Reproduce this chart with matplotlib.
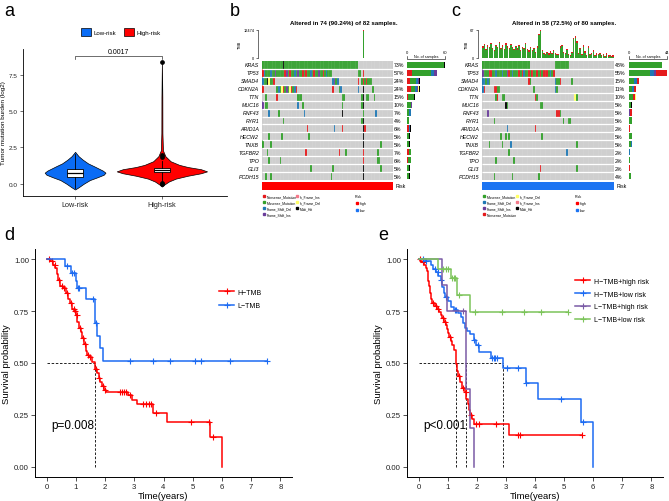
import numpy as np
import matplotlib
matplotlib.use("Agg")
import matplotlib.pyplot as plt
from matplotlib.patches import Patch
from matplotlib.lines import Line2D

plt.rcParams['font.family'] = ['Liberation Sans', 'DejaVu Sans']

W, H = 669, 502

# ---------------- panel a: TMB violin ----------------
groups = ["Low-risk", "High-risk"]
group_colors = ["#0A6CF5", "#FF0000"]
low_vio_y = [-0.4, -0.25, 0.0, 0.25, 0.45, 0.62, 0.76, 0.9, 1.05, 1.2, 1.4, 1.65, 1.9, 2.2]
low_vio_w = [0.0, 0.04, 0.1, 0.17, 0.26, 0.33, 0.35, 0.32, 0.27, 0.22, 0.15, 0.09, 0.04, 0.0]
high_vio_y = [-0.2, -0.05, 0.15, 0.35, 0.55, 0.72, 0.85, 1.0, 1.15, 1.3, 1.55, 1.9, 2.3, 3.5, 6.0, 8.45]
high_vio_w = [0.0, 0.03, 0.08, 0.16, 0.3, 0.45, 0.52, 0.45, 0.3, 0.2, 0.1, 0.04, 0.012, 0.006, 0.005, 0.0]
box_low = dict(med=0.75, q1=0.45, q3=1.02, whislo=-0.3, whishi=2.05, fliers=[])
box_high = dict(med=0.92, q1=0.78, q3=1.1, whislo=0.15, whishi=1.6, fliers=[8.4, 1.95, 1.82, 0.08, 0.0])
p_value_a = "0.0017"

# ---------------- panels b / c: oncoplots ----------------
genes = ["KRAS", "TP53", "SMAD4", "CDKN2A", "TTN", "MUC16", "RNF43", "RYR1",
         "ARID1A", "HECW2", "TNXB", "TGFBR2", "TPO", "GLI3", "PCDH15"]
# codes: M missense, N nonsense, D frame-shift del, I frame-shift ins,
#        i in-frame ins, d in-frame del, H multi-hit
muts_b = [
    "0-59M 13H",
    "0-43M 0N 1D 5D 8I 14N 15I 17N 20D 22I 25N 27N 30D 32N 35I 38N 40D 60-61M 63N",
    "0D 1M 2M 3H 4d 5M 6M 7N 44D 45I 46M 47D 60N 62M 63N 64M 65N 66M 67M 68M",
    "0N 9M 10D 11M 12d 13N 14M 15I 16M 17d 18N 19M 20D 21N 44N 48M 49D 60D 63H 69M",
    "2M 9N 22M 23M 24M 50M 51M 62M 63H 65M 66M 70M",
    "0I 2M 3M 22D 25M 50M 62M 63H",
    "4D 10M 26D 50H 63M 71D",
    "13M 62M 63H",
    "28N 45D 50N 63H 64N",
    "4M 12M 29M 63H",
    "0M 5M 63H 74M",
    "3M 27N 48N 52M 63N 72M",
    "4M 11M 63N 72M 73M",
    "30M 44M 63H 74M",
    "2M 5M 43M 63H",
]
muts_c = [
    "0-28M 44-52M",
    "0-43M 0I 4N 5N 8D 12D 15I 16N 18D 22N 24N 25D 28N 30N 33N 35N 37N 38N 39N 41D 43N",
    "0D 1D 2M 3D 4M 28N 29M 44D 45M 46M 47N 54M",
    "0D 1N 7N 8N 9M 10M 31M 44D 45M",
    "8M 9N 12M 13M 32N 33M 56d 57M",
    "14H 15M 35M 36M",
    "3I 45N 46N 47M",
    "7M 49M 52M 53M",
    "15D 32N",
    "11M 14M 16M 36M",
    "4M 12M 17D 57M",
    "16M 51D",
    "8M 19M",
    "35N 57M",
    "7M 18M 34M",
]
pct_b = ["73%", "57%", "24%", "24%", "15%", "10%", "7%", "4%", "6%", "5%", "5%", "7%", "6%", "5%", "5%"]
pct_c = ["48%", "55%", "15%", "11%", "10%", "5%", "5%", "5%", "2%", "5%", "5%", "2%", "2%", "2%", "4%"]
tmb_b = [18, 25, 30, 22, 41, 19, 27, 33, 24, 29, 21, 36, 26, 45, 23, 31, 28, 20, 34, 25,
         22, 30, 27, 19, 38, 24, 26, 21, 32, 29, 23, 35, 20, 28, 25, 31, 22, 27, 33, 24,
         19, 26, 30, 21, 37, 28, 23, 25, 29, 20, 34, 26, 22, 31, 24, 27, 19, 30, 23, 28,
         25, 21, 33, 12474, 26, 29, 22, 35, 24, 20, 27, 31, 23, 26, 19, 28, 25, 22, 30, 21,
         24, 27]
tmb_c = [28, 34, 22, 30, 26, 36, 24, 20, 32, 27, 38, 25, 30, 22, 35, 28, 24, 33, 26, 21,
         29, 23, 31, 19, 27, 24, 36, 22, 18, 26, 20, 24, 15, 28, 58, 67, 20, 12, 10, 14,
         11, 16, 12, 20, 13, 10, 9, 28, 32, 15, 12, 22, 10, 8, 14, 48, 52, 40, 12, 24,
         10, 30, 16, 8, 28, 10, 12, 18, 7, 11, 9, 13, 7, 9, 5, 11, 6, 8, 5, 6]
title_b = "Altered in 74 (90.24%) of 82 samples."
title_c = "Altered in 58 (72.5%) of 80 samples."

mut_names = {"N": "Nonsense_Mutation", "M": "Missense_Mutation", "D": "Frame_Shift_Del",
             "I": "Frame_Shift_Ins", "i": "In_Frame_Ins", "d": "In_Frame_Del", "H": "Multi_Hit"}
mut_colors = {"N": "#E41A1C", "M": "#33A02C", "D": "#1F78B4", "I": "#6A3D9A",
              "i": "#F47A8A", "d": "#FFFF66", "H": "#000000"}
order_b = ["N", "M", "D", "I", "i", "d", "H"]
order_c = ["M", "D", "I", "N", "d", "i", "H"]
risk_colors = {"high": "#FF0000", "low": "#1C74F2"}

# ---------------- panels d / e: Kaplan-Meier ----------------
d_h_time = [0.12, 0.2, 0.3, 0.35, 0.4, 0.45, 0.55, 0.65, 0.72, 0.8, 0.88, 0.95, 1.0, 1.05, 1.1,
            1.18, 1.22, 1.28, 1.33, 1.38, 1.45, 1.55, 1.66, 1.72, 1.78, 1.84, 1.9, 1.96, 2.02,
            2.8, 2.92, 3.08, 3.65, 4.12, 5.6, 6.0]
d_h_surv = [0.99, 0.975, 0.96, 0.93, 0.90, 0.87, 0.86, 0.84, 0.81, 0.79, 0.76, 0.75, 0.73, 0.70,
            0.67, 0.65, 0.62, 0.59, 0.56, 0.54, 0.53, 0.505, 0.47, 0.45, 0.43, 0.41, 0.39, 0.37,
            0.36, 0.345, 0.32, 0.30, 0.26, 0.215, 0.143, 0.0]
d_h_cens = [0.08, 0.18, 0.27, 0.42, 0.52, 0.6, 0.68, 0.83, 0.92, 0.98, 1.03, 1.15, 1.25, 1.31,
            1.42, 1.5, 1.68, 1.78, 1.92, 1.98, 2.5, 2.58, 2.65, 2.72, 2.85, 3.3, 3.4, 3.5, 3.58,
            3.75, 4.93, 5.55, 5.7]
d_l_time = [0.63, 0.83, 1.0, 1.04, 1.35, 1.66, 1.72, 1.81, 1.94]
d_l_surv = [0.968, 0.935, 0.895, 0.86, 0.81, 0.694, 0.632, 0.573, 0.508]
d_l_cens = [0.7, 0.86, 0.95, 1.07, 1.12, 1.6, 1.7, 2.85, 3.64, 4.22, 5.07, 5.3, 6.26, 7.53]
d_labels = ["H\u2212TMB", "L\u2212TMB"]
d_colors = ["#FF0000", "#1C6BF2"]
d_pval = "p=0.008"

e_hh_time = [0.05, 0.12, 0.2, 0.25, 0.29, 0.31, 0.33, 0.35, 0.38, 0.41, 0.46, 0.55, 0.62, 0.7,
             0.76, 0.82, 0.88, 0.93, 0.97, 1.01, 1.05, 1.1, 1.16, 1.22, 1.27, 1.3, 1.32, 1.36,
             1.42, 1.48, 1.6, 1.64, 1.7, 1.74, 1.78, 1.83, 1.9, 3.1]
e_hh_surv = [0.99, 0.985, 0.975, 0.96, 0.945, 0.92, 0.895, 0.87, 0.84, 0.81, 0.79, 0.775, 0.76,
             0.745, 0.73, 0.715, 0.70, 0.685, 0.665, 0.645, 0.625, 0.605, 0.585, 0.565, 0.53,
             0.495, 0.46, 0.435, 0.41, 0.38, 0.36, 0.325, 0.30, 0.275, 0.25, 0.23, 0.205, 0.155]
e_hh_cens = [0.03, 0.15, 0.5, 0.6, 0.68, 0.85, 0.9, 1.08, 1.4, 1.52, 1.62, 1.8, 1.97, 2.08,
             2.65, 3.4, 3.5, 5.6]
e_hl_time = [0.22, 0.42, 0.5, 0.6, 0.68, 0.76, 0.82, 0.86, 0.9, 1.02, 1.1, 1.22, 1.36, 1.45,
             1.52, 1.58, 1.66, 1.78, 1.9, 1.98, 2.08, 2.48, 2.9, 3.7, 4.12, 5.58, 6.0]
e_hl_surv = [0.99, 0.975, 0.955, 0.94, 0.92, 0.90, 0.865, 0.84, 0.82, 0.80, 0.77, 0.755, 0.74,
             0.72, 0.695, 0.67, 0.655, 0.64, 0.61, 0.585, 0.555, 0.525, 0.475, 0.405, 0.325,
             0.215, 0.0]
e_hl_cens = [0.15, 0.25, 0.55, 0.65, 0.78, 0.95, 1.25, 1.3, 1.9, 2.05, 2.52, 2.58, 2.64, 2.7,
             3.05, 3.4, 3.7, 4.9, 5.65]
e_lh_time = [0.8, 0.97, 1.62, 1.76, 1.92]
e_lh_surv = [0.875, 0.75, 0.375, 0.1875, 0.0]
e_lh_cens = [1.54]
e_ll_time = [0.65, 1.1, 1.31, 1.75]
e_ll_surv = [0.955, 0.91, 0.83, 0.745]
e_ll_cens = [0.85, 0.95, 1.0, 1.15, 1.2, 1.25, 1.38, 1.95, 2.85, 3.63, 4.2, 5.13]
e_labels = ["H\u2212TMB+high risk", "H\u2212TMB+low risk", "L\u2212TMB+high risk", "L\u2212TMB+low risk"]
e_colors = ["#FF0000", "#1C6BF2", "#7A5BA6", "#7CC45A"]
e_pval = "p<0.001"


fig = plt.figure(figsize=(W / 100, H / 100), dpi=100)


def px_axes(x0, y0, x1, y1):
    return fig.add_axes([x0 / W, 1 - y1 / H, (x1 - x0) / W, (y1 - y0) / H])


def fig_text(x, y, s, **kw):
    return fig.text(x / W, 1 - y / H, s, **kw)


def fig_marker(x, y, color, size=1.6):
    fig.add_artist(Line2D([x / W], [1 - y / H], marker="s", ms=size, color=color,
                          lw=0, transform=fig.transFigure))


def parse_row(spec, n):
    row = ["."] * n
    for tok in spec.split():
        code, pos = tok[-1], tok[:-1]
        if "-" in pos:
            a, b = (int(v) for v in pos.split("-"))
            for j in range(a, b + 1):
                row[j] = code
        else:
            row[int(pos)] = code
    return row


# ---- panel letters
for lx, ly, letter in [(4, 12, "a"), (230, 12, "b"), (451, 12, "c"), (4, 236, "d"), (378, 236, "e")]:
    fig_text(lx, ly, letter, fontsize=13, va="center", ha="left")

# ================= a =================
ax = px_axes(23, 50, 227, 197)
for pos, vy, vw, col in [(1, low_vio_y, low_vio_w, group_colors[0]),
                         (2, high_vio_y, high_vio_w, group_colors[1])]:
    vy = np.asarray(vy)
    vw = np.asarray(vw)
    ax.fill_betweenx(vy, pos - vw, pos + vw, facecolor=col, edgecolor="black", lw=0.5, zorder=1)
ax.bxp([box_low, box_high], positions=[1, 2], widths=0.19, patch_artist=True, showcaps=False,
       boxprops=dict(facecolor="white", edgecolor="black", lw=0.6),
       medianprops=dict(color="black", lw=0.9),
       whiskerprops=dict(color="black", lw=0.6),
       flierprops=dict(marker="o", markerfacecolor="black", markeredgecolor="black", ms=2.4),
       manage_ticks=False)
ax.plot([1, 1, 2, 2], [8.58, 8.8, 8.8, 8.58], color="#333333", lw=0.5)
ax.text(1.5, 8.88, p_value_a, ha="center", va="bottom", fontsize=5)
ax.set_xlim(0.4, 2.75)
ax.set_ylim(-0.85, 9.3)
ax.set_xticks([1, 2])
ax.set_xticklabels(groups, fontsize=5.2)
ax.set_yticks([0, 2.5, 5, 7.5])
ax.set_yticklabels(["0.0", "2.5", "5.0", "7.5"], fontsize=4.6)
ax.set_ylabel("Tumor mutation burden (log2)", fontsize=4.6, labelpad=2)
for s in ["top", "right"]:
    ax.spines[s].set_visible(False)
for s in ["left", "bottom"]:
    ax.spines[s].set_linewidth(0.6)
ax.tick_params(length=2.2, width=0.5, pad=1.5, colors="#333333", labelcolor="#222222")
fig.legend(handles=[Patch(facecolor=c, edgecolor="black", lw=0.5, label=g)
                    for g, c in zip(groups, group_colors)],
           loc="center", bbox_to_anchor=(121 / W, 1 - 33 / H), ncol=2, frameon=False,
           fontsize=4.4, handlelength=1.6, handleheight=1.6, columnspacing=1.2, handletextpad=0.5)


# ================= b / c =================
def draw_oncoplot(left, right, n, specs, pct, tmb, tmb_top, bar_right, bar_max,
                  order, risk_key, title):
    top, bottom = 62, 181
    nrow = len(genes)
    row_h = (bottom - top) / nrow
    rows = [parse_row(s, n) for s in specs]

    gray = np.array(matplotlib.colors.to_rgb("#CCCCCC"))
    img = np.tile(gray, (nrow, n, 1))
    for r, row in enumerate(rows):
        for j, code in enumerate(row):
            if code != ".":
                img[r, j] = matplotlib.colors.to_rgb(mut_colors[code])
    axm = px_axes(left, top, right, bottom)
    axm.imshow(img, aspect="auto", interpolation="nearest", extent=(0, n, nrow, 0))
    axm.vlines(np.arange(1, n), 0, nrow, color="white", lw=0.15, alpha=0.6)
    axm.hlines(np.arange(1, nrow), 0, n, color="white", lw=0.9)
    axm.set_xlim(0, n)
    axm.set_ylim(nrow, 0)
    axm.axis("off")

    for r, g in enumerate(genes):
        yc = top + (r + 0.5) * row_h
        fig_text(left - 3, yc, g, ha="right", va="center", fontsize=3.8, style="italic")
        fig_text(right + 0.8, yc, pct[r], ha="left", va="center", fontsize=3.8)

    # right bar of counts per gene
    bar_left = right + 14.5
    axr = px_axes(bar_left, top, bar_right, bottom)
    for r, row in enumerate(rows):
        cum = 0
        for code in order:
            cnt = row.count(code)
            if cnt:
                axr.barh(r + 0.5, cnt, left=cum, height=0.78, color=mut_colors[code], lw=0)
                cum += cnt
    axr.set_xlim(0, bar_max)
    axr.set_ylim(nrow, 0)
    axr.axis("off")
    fig.add_artist(Line2D([bar_left / W, bar_left / W, bar_right / W, bar_right / W],
                          [1 - 56.5 / H, 1 - 59.5 / H, 1 - 59.5 / H, 1 - 56.5 / H],
                          color="black", lw=0.4, transform=fig.transFigure))
    fig_text(bar_left, 53, "0", ha="center", va="center", fontsize=3)
    fig_text(bar_right, 53, str(bar_max), ha="center", va="center", fontsize=3)
    fig_text((bar_left + bar_right) / 2, 57, "No. of samples", ha="center", va="center", fontsize=2.6)

    # top TMB bars
    axt = px_axes(left, 31, right, 59)
    x = np.arange(n) + 0.5
    tmb = np.asarray(tmb, dtype=float)
    axt.bar(x, tmb, width=0.85, color=mut_colors["M"], lw=0)
    cap = 0.045 * tmb_top
    axt.bar(x, np.minimum(cap, tmb), bottom=np.maximum(tmb - cap, 0), width=0.85,
            color=mut_colors["N"], lw=0)
    axt.set_xlim(0, n)
    axt.set_ylim(0, tmb_top)
    for s in ["top", "right", "bottom"]:
        axt.spines[s].set_visible(False)
    axt.spines["left"].set_position(("outward", 3))
    axt.spines["left"].set_linewidth(0.4)
    axt.set_xticks([])
    axt.set_yticks([0, tmb_top])
    axt.set_yticklabels(["0", str(tmb_top)], fontsize=2.8)
    axt.tick_params(axis="y", length=1.5, width=0.4, pad=1)
    axt.set_ylabel("TMB", fontsize=2.8, labelpad=1)

    # risk annotation bar
    axk = px_axes(left, 183, right, 191)
    axk.bar(x, np.ones(n), width=1.0, color=risk_colors[risk_key], lw=0)
    axk.set_xlim(0, n)
    axk.set_ylim(0, 1)
    axk.axis("off")
    fig_text(right + 3, 187, "Risk", ha="left", va="center", fontsize=3.8)

    fig_text(left + 82, 24, title, ha="center", va="center", fontsize=4.4, fontweight="bold")

    # legend
    ly = [197, 203, 209, 215]
    for k, code in enumerate(order[:4]):
        fig_marker(left + 2, ly[k], mut_colors[code])
        fig_text(left + 4.5, ly[k], mut_names[code], ha="left", va="center", fontsize=2.4)
    for k, code in enumerate(order[4:]):
        fig_marker(left + 35, ly[k], mut_colors[code])
        fig_text(left + 37.5, ly[k], mut_names[code], ha="left", va="center", fontsize=2.4)
    fig_text(left + 93, 197, "Risk", ha="left", va="center", fontsize=2.6)
    for k, key in enumerate(["high", "low"]):
        fig_marker(left + 95, 204 + 6.5 * k, risk_colors[key])
        fig_text(left + 97.5, 204 + 6.5 * k, key, ha="left", va="center", fontsize=2.6)


draw_oncoplot(262, 393, 82, muts_b, pct_b, tmb_b, 12474, 445, 60, order_b, "high", title_b)
draw_oncoplot(482, 614, 80, muts_c, pct_c, tmb_c, 67, 667, 44, order_c, "low", title_c)


# ================= d / e =================
def draw_km(ax, curves, colors, labels, pval, leg_xy, leg_space):
    medians = []
    for (times, surv, cens), col, lab in zip(curves, colors, labels):
        t = np.r_[0.0, times]
        s = np.r_[1.0, surv]
        t_end = max(t[-1], max(cens))
        t = np.r_[t, t_end]
        s = np.r_[s, s[-1]]
        ax.step(t, s, where="post", color=col, lw=1.1, zorder=3)
        c = np.asarray(cens)
        cy = s[np.searchsorted(t, c, side="right") - 1]
        ax.plot(c, cy, "+", color=col, ms=4, mew=0.8, zorder=3)
        below = np.nonzero(s <= 0.5)[0]
        if len(below):
            medians.append(t[below[0]])
    if medians:
        ax.plot([0, max(medians)], [0.5, 0.5], ls=(0, (3, 2)), color="black", lw=0.6, zorder=2)
        for m in medians:
            ax.plot([m, m], [0, 0.5], ls=(0, (3, 2)), color="black", lw=0.6, zorder=2)
    ax.text(0.17, 0.2, pval, fontsize=8.5, va="center", ha="left")
    ax.set_xlim(-0.4, 8.4)
    ax.set_ylim(-0.05, 1.05)
    ax.set_xticks(range(9))
    ax.set_yticks([0, 0.25, 0.5, 0.75, 1.0])
    ax.set_yticklabels(["0.00", "0.25", "0.50", "0.75", "1.00"])
    ax.tick_params(labelsize=5.6, length=2.8, width=0.6, pad=1.5, colors="#333333",
                   labelcolor="#222222")
    ax.set_xlabel("Time(years)", fontsize=6.8, labelpad=1)
    ax.set_ylabel("Survival probability", fontsize=6.8, labelpad=2)
    for s in ["top", "right"]:
        ax.spines[s].set_visible(False)
    for s in ["left", "bottom"]:
        ax.spines[s].set_linewidth(0.7)
    handles = [Line2D([], [], color=col, lw=1.1, marker="+", ms=4, mew=0.8)
               for col in colors]
    ax.legend(handles, labels, loc="center left", bbox_to_anchor=(leg_xy[0] / W, 1 - leg_xy[1] / H),
              bbox_transform=fig.transFigure, frameon=False, fontsize=5.0, handlelength=2.2,
              handletextpad=0.5, labelspacing=leg_space, borderpad=0, borderaxespad=0)


axd = px_axes(35, 250, 292, 478)
draw_km(axd, [(d_h_time, d_h_surv, d_h_cens), (d_l_time, d_l_surv, d_l_cens)],
        d_colors, d_labels, d_pval, (219, 300), 1.0)

axe = px_axes(407, 250, 663, 478)
draw_km(axe, [(e_hh_time, e_hh_surv, e_hh_cens), (e_hl_time, e_hl_surv, e_hl_cens),
              (e_lh_time, e_lh_surv, e_lh_cens), (e_ll_time, e_ll_surv, e_ll_cens)],
        e_colors, e_labels, e_pval, (575, 301.5), 0.85)

fig.savefig("out.png", dpi=100)
